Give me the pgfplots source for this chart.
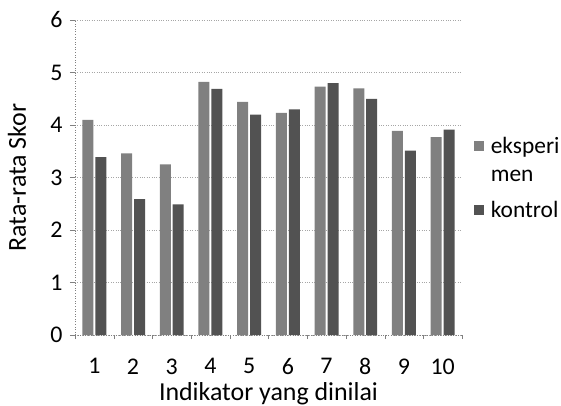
\documentclass[border=0pt]{standalone}
\usepackage{pgfplots}
\pgfplotsset{compat=1.18}
\usepackage{fontspec}
\setmainfont{Carlito}
\definecolor{eksp}{gray}{0.50}
\definecolor{kont}{gray}{0.32}
\begin{document}
\begin{tikzpicture}
\begin{axis}[
  scale only axis,
  width=387bp, height=315bp,
  ybar, bar width=11bp,
  ymin=0, ymax=6, ytick={0,1,...,6},
  xmin=0.5, xmax=10.5,
  xtick={1,...,10},
  minor xtick={0.5,1.5,...,10.5},
  major x tick style={draw=none},
  minor tick length=4bp, major tick length=5bp,
  tick align=outside,
  ytick style={gray},
  minor x tick style={gray},
  axis x line*=bottom, axis y line*=left,
  x axis line style={gray, dotted, line width=0.6pt, -},
  y axis line style={gray, dotted, line width=0.6pt, -},
  ymajorgrids, grid style={gray!70, dotted, line width=0.6pt},
  tick label style={font=\fontsize{24}{26}\selectfont},
  xticklabel style={yshift=-15bp},
  yticklabel style={xshift=-4bp},
  /pgf/number format/assume math mode=true,
  xlabel={Indikator yang dinilai},
  ylabel={Rata-rata Skor},
  label style={font=\fontsize{26}{28}\selectfont},
  xlabel style={at={(axis description cs:0.5,-0.186)}, anchor=center},
  ylabel style={at={(axis description cs:-0.15,0.5)}, anchor=center},
  legend style={draw=none, fill=none, inner sep=0pt, at={(1.03,0.635)}, anchor=north west,
    font=\fontsize{23.5}{28}\selectfont, cells={align=left, anchor=west},
    row sep=14bp},
]
\addplot[fill=eksp, draw=none,
  legend image code/.code={\fill[eksp] (0bp,9bp) rectangle (10bp,19bp); \path (15bp,0bp);}]
  coordinates {(1,4.10) (2,3.46) (3,3.25) (4,4.82) (5,4.44) (6,4.23) (7,4.73) (8,4.70) (9,3.89) (10,3.77)};
\addplot[fill=kont, draw=none,
  legend image code/.code={\fill[kont] (0bp,-5bp) rectangle (10bp,5bp); \path (15bp,0bp);}]
  coordinates {(1,3.39) (2,2.59) (3,2.49) (4,4.69) (5,4.20) (6,4.30) (7,4.80) (8,4.50) (9,3.51) (10,3.91)};
\legend{eksperi\\men, kontrol}
\end{axis}
\pgfresetboundingbox
\path (-75bp,-71bp) rectangle (486bp,335bp);
\end{tikzpicture}
\end{document}
